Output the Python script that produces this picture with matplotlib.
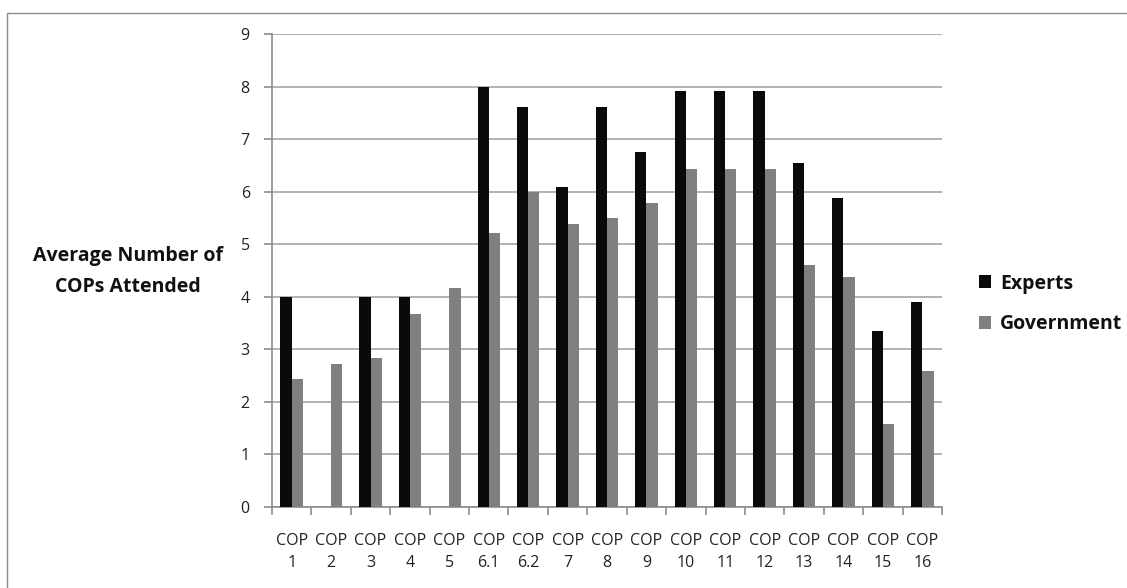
import matplotlib
matplotlib.use("Agg")
import matplotlib.pyplot as plt
import numpy as np
from matplotlib.patches import Rectangle, Patch

categories = ["COP\n1", "COP\n2", "COP\n3", "COP\n4", "COP\n5", "COP\n6.1", "COP\n6.2",
              "COP\n7", "COP\n8", "COP\n9", "COP\n10", "COP\n11", "COP\n12", "COP\n13",
              "COP\n14", "COP\n15", "COP\n16"]
experts = [4.0, 0, 4.0, 4.0, 0, 8.0, 7.62, 6.09, 7.62, 6.75, 7.91, 7.91, 7.91, 6.55, 5.87, 3.35, 3.91]
government = [2.44, 2.73, 2.84, 3.68, 4.17, 5.22, 6.0, 5.39, 5.50, 5.78, 6.44, 6.44, 6.44, 4.60, 4.37, 1.57, 2.58]
series_names = ["Experts", "Government"]
ylabel_lines = ["Average Number of", "COPs Attended"]
yticks = list(range(0, 10))

plt.rcParams['font.family'] = ['Open Sans', 'DejaVu Sans']

W, H = 1127, 588
fig = plt.figure(figsize=(W / 100, H / 100), dpi=100)
fig.patch.set_facecolor("white")

# outer chart border
fig.add_artist(Rectangle((7 / W, -0.2), 1.2, 1 - 13 / H + 0.2, transform=fig.transFigure,
                         fill=False, edgecolor="#8c8c8c", linewidth=1.0))

ax = fig.add_axes([272 / W, 1 - 507 / H, (942 - 272) / W, (507 - 34) / H])

n = len(categories)
x = np.arange(n)
w = 1 / 3.5
ax.bar(x - w / 2, experts, width=w, color="#0a0a0a", zorder=3, label=series_names[0])
ax.bar(x + w / 2, government, width=w, color="#7f7f7f", zorder=3, label=series_names[1])

ax.set_xlim(-0.5, n - 0.5)
ax.set_ylim(0, 9)
ax.set_yticks(yticks)
ax.set_yticklabels([str(v) for v in yticks], fontsize=11.5, color="#222222")
ax.yaxis.grid(True, color="#a6a6a6", linewidth=1.2, zorder=0)
ax.set_axisbelow(True)

ax.set_xticks(np.arange(-0.5, n, 1.0))
ax.set_xticklabels([])
ax.set_xticks(x, minor=True)
ax.set_xticklabels(categories, minor=True, fontsize=11.5, color="#222222", linespacing=1.5)
ax.tick_params(axis="x", which="minor", length=0, pad=19)
ax.tick_params(axis="x", which="major", length=6, color="#8c8c8c", width=1.2)
ax.tick_params(axis="y", length=6, color="#8c8c8c", width=1.2, pad=10)

for s in ["top", "right"]:
    ax.spines[s].set_visible(False)
for s in ["left", "bottom"]:
    ax.spines[s].set_color("#8c8c8c")
    ax.spines[s].set_linewidth(1.2)

for ypx, line in zip([256, 287], ylabel_lines):
    fig.text(128 / W, 1 - ypx / H, line, ha="center", va="center",
             fontsize=14, fontweight="bold", color="#111111")

handles = [Patch(facecolor="#0a0a0a"), Patch(facecolor="#7f7f7f")]
fig.legend(handles, series_names, loc="center left", bbox_to_anchor=(961 / W, 1 - 304 / H),
           frameon=False, prop={"weight": "bold", "size": 14}, handlelength=0.65,
           handleheight=0.65, handletextpad=0.45, labelspacing=1.05, labelcolor="#111111")

fig.savefig("out.png", dpi=100, facecolor="white")
